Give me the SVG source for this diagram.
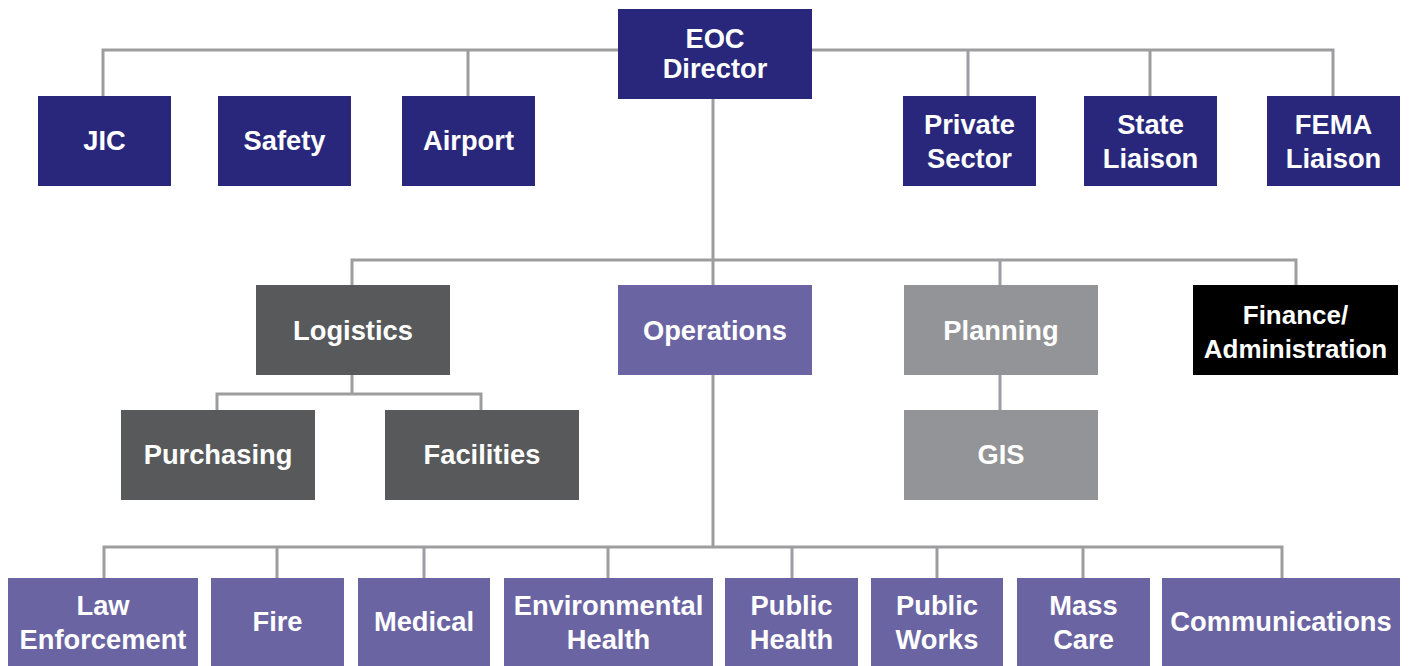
<svg xmlns="http://www.w3.org/2000/svg" width="1409" height="666" viewBox="0 0 1409 666">
  <style>
    .link { fill: none; stroke: #9d9da0; stroke-width: 3; }
    .navy { fill: #29277b; }
    .dark { fill: #58595b; }
    .purple { fill: #6b64a3; }
    .light { fill: #939497; }
    .black { fill: #000000; }
    text { font-family: "Liberation Sans", Arial, sans-serif; font-weight: bold; font-size: 27.3px; fill: #ffffff; text-anchor: middle; }
    .small { font-size: 26px; }
  </style>
  <rect width="1409" height="666" fill="#ffffff"/>

  <g id="connectors">
    <!-- director to command staff and liaisons -->
    <polyline class="link" points="103,96 103,50 1333,50 1333,96"/>
    <line class="link" x1="468" y1="50" x2="468" y2="96"/>
    <line class="link" x1="968" y1="50" x2="968" y2="96"/>
    <line class="link" x1="1150" y1="50" x2="1150" y2="96"/>
    <!-- director spine down to operations branches -->
    <line class="link" x1="713" y1="99" x2="713" y2="547"/>
    <!-- general staff bar -->
    <polyline class="link" points="352,285 352,260 1296,260 1296,285"/>
    <line class="link" x1="1000" y1="260" x2="1000" y2="285"/>
    <!-- logistics units -->
    <line class="link" x1="352" y1="375" x2="352" y2="394"/>
    <polyline class="link" points="217,410 217,394 481,394 481,410"/>
    <!-- planning to GIS -->
    <line class="link" x1="1000" y1="375" x2="1000" y2="410"/>
    <!-- operations branches -->
    <polyline class="link" points="104,578 104,547 1282,547 1282,578"/>
    <line class="link" x1="277" y1="547" x2="277" y2="578"/>
    <line class="link" x1="424" y1="547" x2="424" y2="578"/>
    <line class="link" x1="608" y1="547" x2="608" y2="578"/>
    <line class="link" x1="792" y1="547" x2="792" y2="578"/>
    <line class="link" x1="937" y1="547" x2="937" y2="578"/>
    <line class="link" x1="1083" y1="547" x2="1083" y2="578"/>
  </g>

  <g id="eoc-director">
    <rect class="navy" x="618" y="9" width="194" height="90"/>
    <text x="715" y="48">EOC</text>
    <text x="715" y="78">Director</text>
  </g>

  <g id="jic">
    <rect class="navy" x="38" y="96" width="133" height="90"/>
    <text x="104.5" y="150">JIC</text>
  </g>
  <g id="safety">
    <rect class="navy" x="218" y="96" width="133" height="90"/>
    <text x="284.5" y="150">Safety</text>
  </g>
  <g id="airport">
    <rect class="navy" x="402" y="96" width="133" height="90"/>
    <text x="468.5" y="150">Airport</text>
  </g>
  <g id="private-sector">
    <rect class="navy" x="903" y="96" width="133" height="90"/>
    <text x="969.5" y="134">Private</text>
    <text x="969.5" y="168">Sector</text>
  </g>
  <g id="state-liaison">
    <rect class="navy" x="1084" y="96" width="133" height="90"/>
    <text x="1150.5" y="134">State</text>
    <text x="1150.5" y="168">Liaison</text>
  </g>
  <g id="fema-liaison">
    <rect class="navy" x="1267" y="96" width="133" height="90"/>
    <text x="1333.5" y="134">FEMA</text>
    <text x="1333.5" y="168">Liaison</text>
  </g>

  <g id="logistics">
    <rect class="dark" x="256" y="285" width="194" height="90"/>
    <text x="353" y="340">Logistics</text>
  </g>
  <g id="operations">
    <rect class="purple" x="618" y="285" width="194" height="90"/>
    <text x="715" y="340">Operations</text>
  </g>
  <g id="planning">
    <rect class="light" x="904" y="285" width="194" height="90"/>
    <text x="1001" y="340">Planning</text>
  </g>
  <g id="finance-administration">
    <rect class="black" x="1193" y="285" width="205" height="90"/>
    <text class="small" x="1295.5" y="324">Finance/</text>
    <text class="small" x="1295.5" y="358">Administration</text>
  </g>

  <g id="purchasing">
    <rect class="dark" x="121" y="410" width="194" height="90"/>
    <text x="218" y="464">Purchasing</text>
  </g>
  <g id="facilities">
    <rect class="dark" x="385" y="410" width="194" height="90"/>
    <text x="482" y="464">Facilities</text>
  </g>
  <g id="gis">
    <rect class="light" x="904" y="410" width="194" height="90"/>
    <text x="1001" y="464">GIS</text>
  </g>

  <g id="law-enforcement">
    <rect class="purple" x="8" y="578" width="190" height="90"/>
    <text x="103" y="615">Law</text>
    <text x="103" y="649">Enforcement</text>
  </g>
  <g id="fire">
    <rect class="purple" x="211" y="578" width="133" height="90"/>
    <text x="277.5" y="631">Fire</text>
  </g>
  <g id="medical">
    <rect class="purple" x="358" y="578" width="132" height="90"/>
    <text x="424" y="631">Medical</text>
  </g>
  <g id="environmental-health">
    <rect class="purple" x="504" y="578" width="209" height="90"/>
    <text x="608.5" y="615">Environmental</text>
    <text x="608.5" y="649">Health</text>
  </g>
  <g id="public-health">
    <rect class="purple" x="725" y="578" width="133" height="90"/>
    <text x="791.5" y="615">Public</text>
    <text x="791.5" y="649">Health</text>
  </g>
  <g id="public-works">
    <rect class="purple" x="871" y="578" width="132" height="90"/>
    <text x="937" y="615">Public</text>
    <text x="937" y="649">Works</text>
  </g>
  <g id="mass-care">
    <rect class="purple" x="1017" y="578" width="133" height="90"/>
    <text x="1083.5" y="615">Mass</text>
    <text x="1083.5" y="649">Care</text>
  </g>
  <g id="communications">
    <rect class="purple" x="1162" y="578" width="238" height="90"/>
    <text x="1281" y="631">Communications</text>
  </g>
</svg>
